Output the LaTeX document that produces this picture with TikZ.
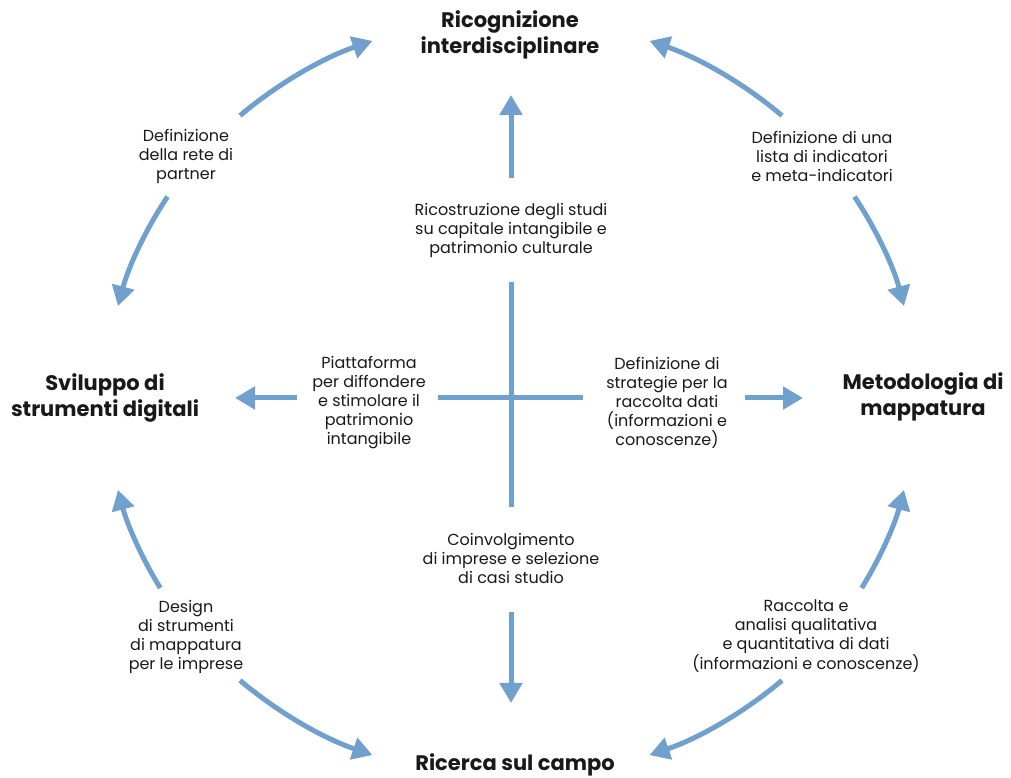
\documentclass[tikz,border=0pt]{standalone}
\usepackage{fontspec}
\setmainfont{Poppins}
\usetikzlibrary{arrows.meta,calc}
\definecolor{arrblue}{RGB}{111,160,206}
\definecolor{txt}{RGB}{25,25,25}
\begin{document}
\begin{tikzpicture}[x=1pt,y=1pt,
  arr/.style={draw=arrblue,line width=5pt,-{Triangle[length=20pt,width=22pt]}},
  plain/.style={draw=arrblue,line width=5pt},
  lbl/.style={align=center,text=txt,font=\fontsize{16}{19}\selectfont,inner sep=0pt},
  ttl/.style={align=center,text=txt,font=\fontsize{21}{26}\selectfont\bfseries,inner sep=0pt}]
\useasboundingbox (0,0) rectangle (1011,778);
\coordinate (c) at (511,380);
% titles
\node[ttl] (top) at (510,743) {Ricognizione\\interdisciplinare};
\node[ttl] (left) at (105,380.5) {Sviluppo di\\strumenti digitali};
\node[ttl] (right) at (923,381) {Metodologia di\\mappatura};
\node[ttl] (bottom) at (515,13) {Ricerca sul campo};
% center labels
\node[lbl] (lc1) at (511,547) {Ricostruzione degli studi\\su capitale intangibile e\\patrimonio culturale};
\node[lbl] (lc2) at (369,375) {Piattaforma\\per diffondere\\e stimolare il\\patrimonio\\intangibile};
\node[lbl] (lc3) at (667,375) {Definizione di\\strategie per la\\raccolta dati\\(informazioni e\\conoscenze)};
\node[lbl] (lc4) at (511,220) {Coinvolgimento\\di imprese e selezione\\di casi studio};
% arc labels
\node[lbl] (la1) at (186,622) {Definizione\\della rete di\\partner};
\node[lbl] (la2) at (822,622) {Definizione di una\\lista di indicatori\\e meta-indicatori};
\node[lbl] (la3) at (186,141.5) {Design\\di strumenti\\di mappatura\\per le imprese};
\node[lbl] (la4) at (806,141.5) {Raccolta e\\analisi qualitativa\\e quantitativa di dati\\(informazioni e conoscenze)};
% cross
\coordinate (vt) at (511,496);
\coordinate (vb) at (511,271);
\coordinate (hl) at (438,380);
\coordinate (hr) at (583,380);
\draw[plain] (vt) -- (vb);
\draw[plain] (hl) -- (hr);
% straight arrows
\coordinate (ua) at (511,600); \coordinate (ub) at (511,683);
\coordinate (da) at (511,166); \coordinate (db) at (511,75);
\coordinate (la) at (297,380); \coordinate (lb) at (235,380);
\coordinate (ra) at (745,380); \coordinate (rb) at (803,380);
\draw[arr] (ua) -- (ub);
\draw[arr] (da) -- (db);
\draw[arr] (la) -- (lb);
\draw[arr] (ra) -- (rb);
% curved arrows
\draw[arr] ($(c)+(132:405pt and 380pt)$) arc[start angle=132,end angle=110,x radius=405pt,y radius=380pt];
\draw[arr] ($(c)+(148:405pt and 380pt)$) arc[start angle=148,end angle=166,x radius=405pt,y radius=380pt];
\draw[arr] ($(c)+(48:405pt and 380pt)$) arc[start angle=48,end angle=70,x radius=405pt,y radius=380pt];
\draw[arr] ($(c)+(32:405pt and 380pt)$) arc[start angle=32,end angle=14,x radius=405pt,y radius=380pt];
\draw[arr] ($(c)+(210:405pt and 380pt)$) arc[start angle=210,end angle=194,x radius=405pt,y radius=380pt];
\draw[arr] ($(c)+(228:405pt and 380pt)$) arc[start angle=228,end angle=250,x radius=405pt,y radius=380pt];
\draw[arr] ($(c)+(330:405pt and 380pt)$) arc[start angle=330,end angle=346,x radius=405pt,y radius=380pt];
\draw[arr] ($(c)+(312:405pt and 380pt)$) arc[start angle=312,end angle=290,x radius=405pt,y radius=380pt];
\end{tikzpicture}
\end{document}
